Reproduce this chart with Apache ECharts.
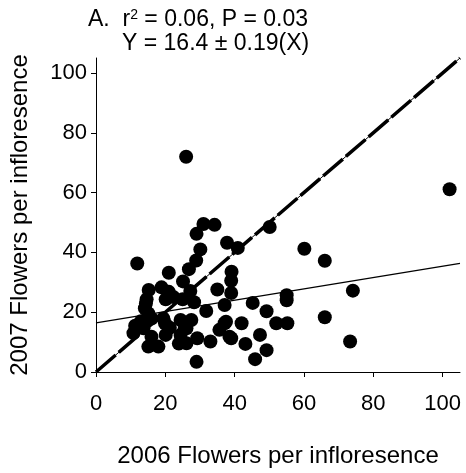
<!DOCTYPE html>
<html>
<head>
<meta charset="utf-8">
<script src="https://cdn.jsdelivr.net/npm/echarts@6/dist/echarts.min.js"></script>
<style>
  html, body { margin: 0; padding: 0; background: #fff; }
  #chart { width: 466px; height: 473px; }
</style>
</head>
<body>
<div id="chart"></div>
<script>
// Flowers per inflorescence, one point per plant: [2006, 2007]
const plants = [
  [26, 72], [31, 49.5], [34.2, 49.2], [29, 46.2], [37.8, 43.2], [50.1, 48.5],
  [30.1, 41], [40.9, 41.5], [28.9, 37.3], [11.9, 36.3], [21, 33.2], [26.8, 34.4],
  [39.1, 33.5], [39, 30.5], [25.1, 30.3], [18.9, 28.3], [15.2, 27.4], [21, 26.8],
  [27.2, 27.1], [35, 27.6], [39, 26.4], [20.1, 24.3], [14.6, 24.3], [25, 24.3],
  [28.3, 23.3], [37.1, 22.4], [45.2, 23.1], [31.8, 20.4], [49.2, 20.3], [14.1, 21.3],
  [19.4, 17.9], [16, 17.9], [24.4, 17.4], [27.5, 17.4], [37.1, 16.3], [42, 16.3],
  [52, 16.3], [55.2, 16.3], [11.3, 15.5], [10.8, 13], [21.3, 14.8], [26.1, 14.6],
  [35.6, 14.1], [16, 11.8], [20.1, 12.4], [24.4, 12.4], [29.2, 11.3], [33, 10.2],
  [39, 11.3], [47.3, 12.4], [15.1, 8.5], [18, 8.5], [23.9, 9.5], [43.1, 9.4],
  [49.2, 7.3], [45.9, 4.3], [29, 3.4], [55, 25.7], [55, 24], [60.1, 41.2],
  [66, 37.2], [74.1, 27.2], [66, 18.3], [73.3, 10.2], [102, 61.1], [22.3, 25.1],
  [14.4, 22.9], [15.1, 19.6], [13.7, 14.6], [19.9, 16.3], [26.1, 9.6], [25.6, 14.6],
  [38.5, 11.8], [37.5, 16.8], [13, 17]
];

// Fitted regression: Y = 16.4 + 0.19 X
const intercept = 16.4;
const slope = 0.19;
const axisMax = 105;
const tickValues = [0, 20, 40, 60, 80, 100];

const fitLine = [[0, intercept], [axisMax, intercept + slope * axisMax]];
const identityLine = [[0, 0], [axisMax, axisMax]];

const FONT = 'Liberation Sans, Arial, sans-serif';

const chart = echarts.init(document.getElementById('chart'), null, { renderer: 'canvas' });

function axis(name, nameGap, labelMargin) {
  return {
    type: 'value',
    min: 0,
    max: axisMax,
    interval: 20,
    name: name,
    nameLocation: 'middle',
    nameGap: nameGap,
    nameTextStyle: { color: '#000', fontFamily: FONT, fontSize: 24 },
    splitLine: { show: false },
    axisLine: { show: true, onZero: false, lineStyle: { color: '#000', width: 1 } },
    axisTick: { show: true, inside: false, length: 5, lineStyle: { color: '#000' }, customValues: tickValues },
    axisLabel: { color: '#000', fontFamily: FONT, fontSize: 22, margin: labelMargin, customValues: tickValues }
  };
}

chart.setOption({
  animation: false,
  backgroundColor: '#fff',
  grid: { left: 94, right: 6, top: 58, bottom: 99, containLabel: false },
  xAxis: axis('2006 Flowers per infloresence', 72, 21),
  yAxis: axis('2007 Flowers per infloresence', 64, 9),
  graphic: [
    {
      type: 'text', left: 88, top: 8,
      style: {
        text: 'A.  r{sup|2} = 0.06, P = 0.03',
        font: '23px ' + FONT, fill: '#000',
        rich: { sup: { fontSize: 14, fontFamily: FONT, verticalAlign: 'top', padding: [0, 0, 10, 0] } }
      }
    },
    {
      type: 'text', left: 122, top: 32,
      style: { text: 'Y = 16.4 \u00b1 0.19(X)', font: '23px ' + FONT, fill: '#000' }
    }
  ],
  series: [
    {
      type: 'line', data: identityLine, symbol: 'none', z: 3,
      lineStyle: { color: '#000', width: 1 }
    },
    {
      type: 'line', data: identityLine, symbol: 'none', z: 3,
      lineStyle: { color: '#000', width: 3.5, type: [26, 4] }
    },
    {
      type: 'line', data: fitLine, symbol: 'none', z: 3,
      lineStyle: { color: '#000', width: 1.2 }
    },
    {
      type: 'scatter', data: plants, symbol: 'circle', symbolSize: 14, z: 2,
      itemStyle: { color: '#000', opacity: 1 }
    }
  ]
});
</script>
</body>
</html>
